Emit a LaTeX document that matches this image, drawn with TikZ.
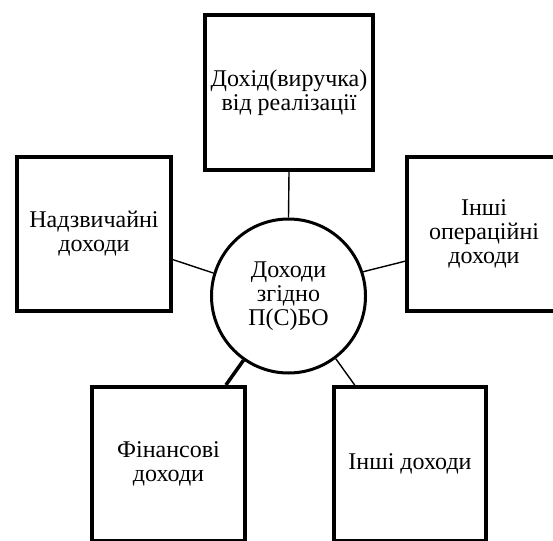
\documentclass[tikz,border=0pt]{standalone}
\usepackage{fontspec}
\setmainfont{Liberation Serif}
\begin{document}
\begin{tikzpicture}[x=1pt,y=-1pt,
  box/.style={draw,line width=4pt,rectangle,inner sep=0pt,align=center,
    font=\fontsize{24}{24}\selectfont},
  hub/.style={draw,line width=3pt,circle,inner sep=0pt,minimum size=154pt,align=center,
    font=\fontsize{24}{24}\selectfont},
  thin/.style={line width=1.4pt},
  thick/.style={line width=3.5pt}]
\clip (0,0) rectangle (553,540);
\fill[white] (0,0) rectangle (553,540);
\node[hub] (c) at (288.5,296) {Доходи\\згідно\\П(С)БО};
\node[box,minimum width=168pt,minimum height=155pt] (t) at (289,92.5) {Дохід(виручка)\\від реалізації};
\node[box,minimum width=154pt,minimum height=154pt] (l) at (94,234) {Надзвичайні\\доходи};
\node[box,minimum width=154pt,minimum height=154pt] (r) at (484,234) {Інші\\операційні\\доходи};
\node[box,minimum width=153pt,minimum height=154pt] (bl) at (168.5,464) {Фінансові\\доходи};
\node[box,minimum width=152pt,minimum height=154pt] (br) at (410,464) {Інші доходи};
\draw[thin] (t.south) -- (c.north);
\draw[thin] (l.-18) -- (c.163);
\draw[thin] (r.-161) -- (c.18);
\draw[thick] (bl.54) -- (c.-125);
\draw[thin] (br.125.6) -- (c.-53);
\end{tikzpicture}
\end{document}
